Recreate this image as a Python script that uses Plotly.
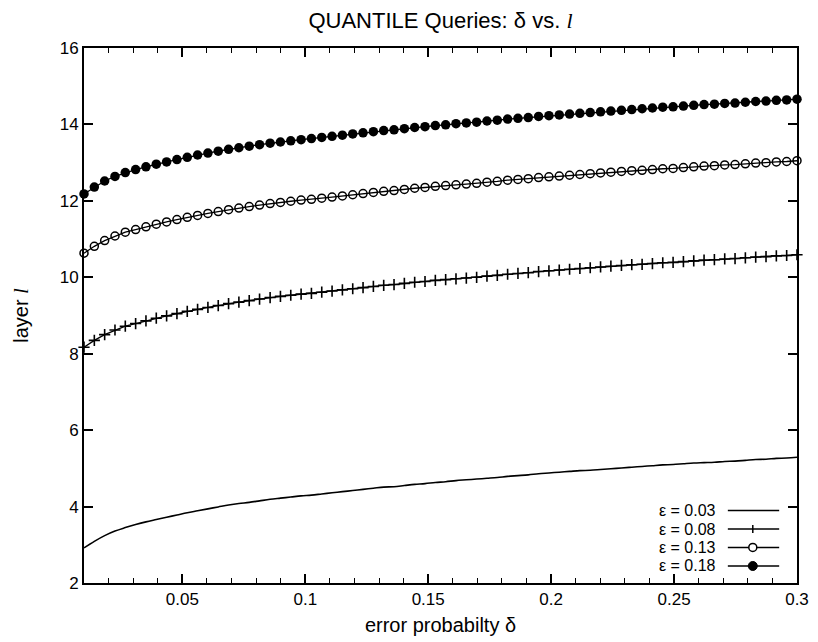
import plotly.graph_objects as go

# error probability delta (sampled x positions, 70 samples)
delta = [0.0100, 0.0142, 0.0184, 0.0226, 0.0268, 0.0310, 0.0352, 0.0394, 0.0436, 0.0478,
         0.0520, 0.0562, 0.0604, 0.0646, 0.0688, 0.0730, 0.0772, 0.0814, 0.0857, 0.0899,
         0.0941, 0.0983, 0.1025, 0.1067, 0.1109, 0.1151, 0.1193, 0.1235, 0.1277, 0.1319,
         0.1361, 0.1403, 0.1445, 0.1487, 0.1529, 0.1571, 0.1613, 0.1655, 0.1697, 0.1739,
         0.1781, 0.1823, 0.1865, 0.1907, 0.1949, 0.1991, 0.2033, 0.2075, 0.2117, 0.2159,
         0.2201, 0.2243, 0.2286, 0.2328, 0.2370, 0.2412, 0.2454, 0.2496, 0.2538, 0.2580,
         0.2622, 0.2664, 0.2706, 0.2748, 0.2790, 0.2832, 0.2874, 0.2916, 0.2958, 0.3000]

layer_eps003 = [2.92, 3.09, 3.24, 3.36, 3.45, 3.53, 3.60, 3.66, 3.72, 3.78,
                3.84, 3.89, 3.94, 3.99, 4.04, 4.08, 4.11, 4.15, 4.19, 4.22,
                4.25, 4.28, 4.30, 4.33, 4.36, 4.39, 4.42, 4.45, 4.48, 4.51,
                4.52, 4.55, 4.58, 4.60, 4.63, 4.65, 4.68, 4.70, 4.72, 4.74,
                4.76, 4.79, 4.81, 4.83, 4.86, 4.88, 4.90, 4.92, 4.94, 4.95,
                4.97, 4.99, 5.01, 5.03, 5.05, 5.07, 5.09, 5.10, 5.12, 5.14,
                5.15, 5.16, 5.18, 5.19, 5.21, 5.23, 5.24, 5.26, 5.27, 5.29]

layer_eps008 = [8.17, 8.35, 8.50, 8.62, 8.72, 8.79, 8.86, 8.93, 8.99, 9.05,
                9.11, 9.16, 9.21, 9.26, 9.31, 9.35, 9.39, 9.43, 9.47, 9.50,
                9.53, 9.56, 9.58, 9.61, 9.64, 9.67, 9.70, 9.73, 9.76, 9.79,
                9.81, 9.84, 9.87, 9.89, 9.92, 9.94, 9.96, 9.98, 10.00, 10.03,
                10.05, 10.08, 10.10, 10.12, 10.15, 10.17, 10.19, 10.21, 10.23, 10.25,
                10.27, 10.29, 10.31, 10.33, 10.34, 10.36, 10.38, 10.39, 10.41, 10.43,
                10.45, 10.46, 10.48, 10.49, 10.51, 10.53, 10.54, 10.56, 10.57, 10.59]

layer_eps013 = [10.63, 10.81, 10.96, 11.08, 11.18, 11.25, 11.32, 11.39, 11.45, 11.51,
                11.57, 11.62, 11.67, 11.72, 11.77, 11.81, 11.85, 11.89, 11.93, 11.96,
                11.99, 12.02, 12.04, 12.07, 12.10, 12.13, 12.16, 12.19, 12.22, 12.25,
                12.27, 12.30, 12.33, 12.35, 12.38, 12.40, 12.42, 12.44, 12.46, 12.49,
                12.51, 12.54, 12.56, 12.58, 12.61, 12.63, 12.65, 12.67, 12.69, 12.71,
                12.73, 12.75, 12.77, 12.79, 12.80, 12.82, 12.84, 12.85, 12.87, 12.89,
                12.91, 12.92, 12.94, 12.95, 12.97, 12.99, 13.00, 13.02, 13.03, 13.05]

layer_eps018 = [12.18, 12.36, 12.52, 12.64, 12.74, 12.82, 12.89, 12.96, 13.02, 13.08,
                13.14, 13.20, 13.25, 13.30, 13.35, 13.39, 13.43, 13.47, 13.51, 13.54,
                13.57, 13.60, 13.63, 13.66, 13.69, 13.72, 13.75, 13.78, 13.81, 13.84,
                13.86, 13.89, 13.92, 13.94, 13.97, 13.99, 14.02, 14.04, 14.06, 14.09,
                14.11, 14.14, 14.16, 14.18, 14.21, 14.23, 14.25, 14.27, 14.29, 14.31,
                14.33, 14.35, 14.37, 14.39, 14.41, 14.43, 14.45, 14.46, 14.48, 14.50,
                14.52, 14.53, 14.55, 14.56, 14.58, 14.60, 14.61, 14.63, 14.64, 14.66]

series_labels = ["ε = 0.03", "ε = 0.08", "ε = 0.13", "ε = 0.18"]
x_tick_vals = [0.05, 0.1, 0.15, 0.2, 0.25, 0.3]
x_tick_text = ["0.05", "0.1", "0.15", "0.2", "0.25", "0.3"]
y_tick_vals = [2, 4, 6, 8, 10, 12, 14, 16]

FONT = "Liberation Sans, Arial, Helvetica, sans-serif"
SERIF_L = "<span style='font-family:Liberation Serif, Times New Roman, serif;font-style:italic'>l</span>"

fig = go.Figure()

fig.add_trace(go.Scatter(x=delta, y=layer_eps003, mode="lines", name=series_labels[0],
                         line=dict(color="black", width=1.6, shape="spline"),
                         showlegend=False, cliponaxis=False))
fig.add_trace(go.Scatter(x=delta, y=layer_eps008, mode="lines+markers", name=series_labels[1],
                         line=dict(color="black", width=1.3),
                         marker=dict(symbol="cross-thin", size=8, color="black",
                                     line=dict(color="black", width=1.6)),
                         showlegend=False, cliponaxis=False))
fig.add_trace(go.Scatter(x=delta, y=layer_eps013, mode="lines+markers", name=series_labels[2],
                         line=dict(color="black", width=1.3),
                         marker=dict(symbol="circle-open", size=8, color="black",
                                     line=dict(color="black", width=1.5)),
                         showlegend=False, cliponaxis=False))
fig.add_trace(go.Scatter(x=delta, y=layer_eps018, mode="lines+markers", name=series_labels[3],
                         line=dict(color="black", width=1.3),
                         marker=dict(symbol="circle", size=9.5, color="black"),
                         showlegend=False, cliponaxis=False))

# gnuplot-style key: label on the left, sample to the right
row_y = [0.1355, 0.1009, 0.0664, 0.0318]
text_x = 0.888
line_x0, line_x1, mark_x = 0.903, 0.975, 0.938
shapes = []
annotations = []
for i, lab in enumerate(series_labels):
    yy = row_y[i]
    annotations.append(dict(xref="paper", yref="paper", x=text_x, y=yy, xanchor="right",
                            yanchor="middle", text=lab, showarrow=False, borderpad=0,
                            font=dict(family=FONT, size=16, color="black")))
    shapes.append(dict(type="line", xref="paper", yref="paper", x0=line_x0, x1=line_x1,
                       y0=yy, y1=yy, line=dict(color="black", width=1.5)))
    if i == 1:
        shapes.append(dict(type="line", xref="paper", yref="paper", xsizemode="pixel",
                           ysizemode="pixel", xanchor=mark_x, yanchor=yy,
                           x0=0, x1=0, y0=-4, y1=4, line=dict(color="black", width=1.5)))
    elif i == 2:
        shapes.append(dict(type="circle", xref="paper", yref="paper", xsizemode="pixel",
                           ysizemode="pixel", xanchor=mark_x, yanchor=yy,
                           x0=-4, x1=4, y0=-4, y1=4, fillcolor="white",
                           line=dict(color="black", width=1.5)))
    elif i == 3:
        shapes.append(dict(type="circle", xref="paper", yref="paper", xsizemode="pixel",
                           ysizemode="pixel", xanchor=mark_x, yanchor=yy,
                           x0=-4.5, x1=4.5, y0=-4.5, y1=4.5, fillcolor="black",
                           line=dict(color="black", width=1)))

fig.update_layout(
    width=818, height=642,
    margin=dict(l=84, r=21, t=48, b=59),
    paper_bgcolor="white", plot_bgcolor="white",
    font=dict(family=FONT, size=17, color="black"),
    title=dict(text="QUANTILE Queries: δ vs. " + SERIF_L, x=0.5385, xanchor="center",
               y=0.969, yanchor="middle", font=dict(family=FONT, size=22, color="black")),
    showlegend=False,
    shapes=shapes,
    annotations=annotations,
)

fig.update_xaxes(
    range=[0.01, 0.3], tickvals=x_tick_vals, ticktext=x_tick_text,
    ticks="inside", ticklen=9, tickwidth=1.5, tickcolor="black",
    showline=True, linecolor="black", linewidth=2, mirror="ticks",
    showgrid=False, zeroline=False, automargin=False,
    tickfont=dict(family=FONT, size=17, color="black"),
    minor=dict(ticks="inside", ticklen=5, tickwidth=1.2, tickcolor="black", dtick=0.01, tick0=0,
               showgrid=False),
    title=dict(text="error probabilty δ", font=dict(family=FONT, size=20, color="black"),
               standoff=10),
)
fig.update_yaxes(
    range=[2, 16], tickvals=y_tick_vals,
    ticks="inside", ticklen=9, tickwidth=1.5, tickcolor="black",
    showline=True, linecolor="black", linewidth=2, mirror="ticks",
    showgrid=False, zeroline=False, automargin=False,
    tickfont=dict(family=FONT, size=17, color="black"),
    title=dict(text="layer " + SERIF_L,
               font=dict(family=FONT, size=20, color="black"), standoff=26),
)

fig.write_html("out.html")
